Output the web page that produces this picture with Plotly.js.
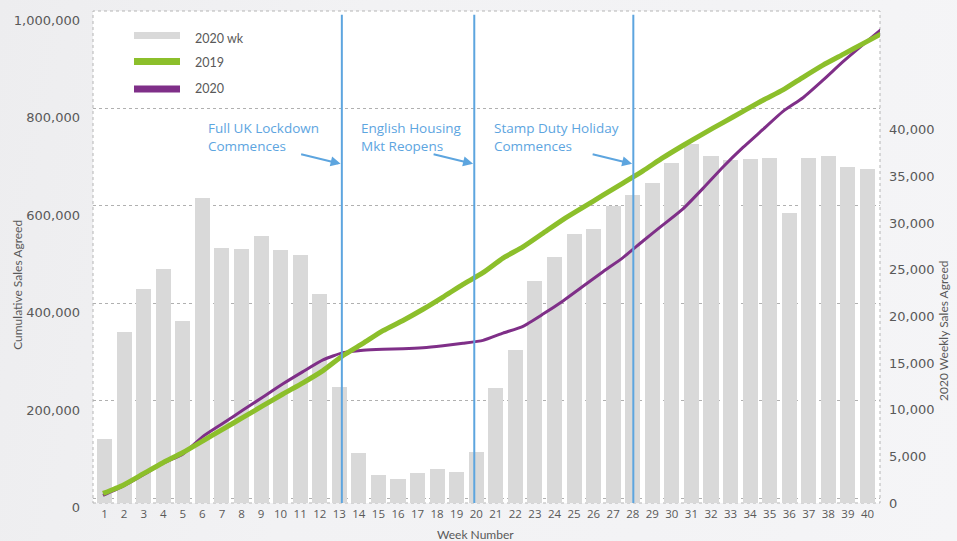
<!DOCTYPE html>
<html>
<head>
<meta charset="utf-8">
<script src="https://cdn.plot.ly/plotly-3.0.1.min.js"></script>
<style>
  html, body { margin: 0; padding: 0; background: #f1f1f3; }
  #chart { width: 957px; height: 541px;
    background: linear-gradient(100deg, #ededef 0%, #f2f2f4 35%, #f3f3f5 70%, #f5f5f7 100%); }
</style>
</head>
<body>
<div id="chart"></div>
<script>
// ---- Data ----
const weeks = [1,2,3,4,5,6,7,8,9,10,11,12,13,14,15,16,17,18,19,20,21,22,23,24,25,26,27,28,29,30,31,32,33,34,35,36,37,38,39,40];
const weekly2020 = [6900,18300,22900,25100,19500,32700,27300,27200,28600,27100,26600,22400,12400,5400,3000,2600,3200,3600,3300,5500,12300,16400,23800,26400,28800,29400,31800,33000,34300,36400,38500,37200,36800,36900,37000,31100,37000,37200,36000,35800];
const cum2019 = [10000,27000,50000,73000,94000,118000,142000,166000,190000,214000,237000,262000,293000,318000,344000,365000,388000,413000,439000,463000,493000,516000,544000,572000,597000,622000,647000,672000,699000,724000,748000,771000,794000,817000,838000,864000,889000,911000,933000,955000];
const cum2020 = [6000,25000,48000,72000,91000,127000,154000,181000,208000,235000,260000,284000,299000,304000,306000,307000,309000,313000,318000,324000,339000,353000,378000,405000,435000,465000,494000,528000,561000,594000,636000,680000,720000,757000,794000,822000,858000,896000,931000,965000];
const seriesNames = ["2020 wk", "2019", "2020"];
const eventWeeks = [13.13, 19.9, 28.03];
const eventLabels = ["Full UK Lockdown<br>Commences", "English Housing<br>Mkt Reopens", "Stamp Duty Holiday<br>Commences"];
const leftTicks = [0,200000,400000,600000,800000,1000000];
const rightTicks = [0,5000,10000,15000,20000,25000,30000,35000,40000];

// ---- Layout helpers (pixel -> paper) ----
const L = 93, R = 880, T = 11.3, B = 503;
const px = x => (x - L) / (R - L);
const py = y => 1 - (y - T) / (B - T);

const GREEN = '#8CBF2B', PURPLE = '#7F2F88', BARC = '#D9D9D9', BLUE = '#5DA5DF', TXT = '#595959';

const traces = [
  // main subplot: weekly bars (week axis + right value axis)
  { type: 'bar', x: weeks, y: weekly2020, name: seriesNames[0], xaxis: 'x', yaxis: 'y',
    marker: { color: BARC, line: { width: 0 } }, width: 0.77 },
  // overlay subplot: cumulative lines (left value axis)
  { type: 'scatter', mode: 'lines', x: weeks, y: cum2020, name: seriesNames[2], xaxis: 'x2', yaxis: 'y2',
    line: { color: PURPLE, width: 3, shape: 'spline', smoothing: 0.5 } },
  { type: 'scatter', mode: 'lines', x: weeks, y: cum2019, name: seriesNames[1], xaxis: 'x2', yaxis: 'y2',
    line: { color: GREEN, width: 5, shape: 'spline', smoothing: 0.5 } }
];

const shapes = [];
const annotations = [];

// plot border (dotted)
shapes.push({ type: 'rect', xref: 'paper', yref: 'paper', x0: 0, x1: 1, y0: 0, y1: 1,
  line: { color: '#b5b5b5', width: 1, dash: 'dot' }, fillcolor: 'rgba(0,0,0,0)', layer: 'below' });

// event lines, arrows and labels
const textX = [206, 359, 492];
eventWeeks.forEach((w, i) => {
  shapes.push({ type: 'line', xref: 'x', yref: 'paper', x0: w, x1: w, y0: 0, y1: py(15),
    line: { color: BLUE, width: 2 } });
  annotations.push({ xref: 'paper', yref: 'paper', x: px(textX[i]), y: py(137),
    xanchor: 'left', yanchor: 'middle', align: 'left', showarrow: false, text: eventLabels[i],
    font: { family: 'Open Sans', size: 13.5, color: BLUE } });
  annotations.push({ xref: 'x', yref: 'paper', x: w - 0.06, y: py(164), ax: -41, ay: -10,
    text: '', showarrow: true, arrowhead: 2, arrowsize: 1, arrowwidth: 2, arrowcolor: BLUE, standoff: 0 });
});

// custom legend
const legColors = [BARC, GREEN, PURPLE];
const legY = [35.7, 61.7, 89.3];
const legTextY = [39, 62.3, 88.3];
seriesNames.forEach((n, i) => {
  shapes.push({ type: 'rect', xref: 'paper', yref: 'paper', x0: px(134), x1: px(180),
    y0: py(legY[i] + 3.5), y1: py(legY[i] - 3.5), line: { width: 0 }, fillcolor: legColors[i] });
  annotations.push({ xref: 'paper', yref: 'paper', x: px(193), y: py(legTextY[i]),
    xanchor: 'left', yanchor: 'middle', showarrow: false, text: n,
    font: { family: 'Lato', size: 12.5, color: TXT } });
});

// axis titles
annotations.push({ xref: 'paper', yref: 'paper', x: px(18), y: py(285), textangle: -90,
  xanchor: 'center', yanchor: 'middle', showarrow: false, text: 'Cumulative Sales Agreed',
  font: { family: 'Lato', size: 12, color: TXT } });
annotations.push({ xref: 'paper', yref: 'paper', x: px(944), y: py(331), textangle: -90,
  xanchor: 'center', yanchor: 'middle', showarrow: false, text: '2020 Weekly Sales Agreed',
  font: { family: 'Lato', size: 12, color: TXT } });
annotations.push({ xref: 'paper', yref: 'paper', x: px(475), y: py(534),
  xanchor: 'center', yanchor: 'middle', showarrow: false, text: 'Week Number',
  font: { family: 'Lato', size: 12, color: TXT } });

const layout = {
  width: 957, height: 541,
  margin: { l: L, r: 957 - R, t: T, b: 541 - B, pad: 0 },
  paper_bgcolor: 'rgba(0,0,0,0)', plot_bgcolor: '#ffffff',
  showlegend: false, bargap: 0,
  xaxis: { range: [0.41, 40.64], tickvals: weeks, ticktext: weeks.map(String), showgrid: false,
    zeroline: false, showline: false, ticks: '', ticklabelstandoff: 2,
    tickfont: { family: 'Open Sans', size: 11.5, color: TXT }, fixedrange: true },
  yaxis: { side: 'right', range: [0, 52730], tickvals: rightTicks, tickformat: ',',
    showgrid: false, zeroline: false, showline: false, ticks: '', ticklabelstandoff: 8,
    tickfont: { family: 'DejaVu Sans', size: 13, color: TXT } },
  xaxis2: { overlaying: 'x', anchor: 'y2', range: [0.5, 39.85], visible: false, showgrid: false,
    zeroline: false, fixedrange: true },
  yaxis2: { overlaying: 'y', side: 'left', anchor: 'x2', range: [-9650, 1000000], tickvals: leftTicks,
    tickformat: ',', showgrid: true, gridcolor: '#b0b0b0', griddash: 'dot', gridwidth: 1,
    zeroline: false, showline: false, ticks: '', ticklabelstandoff: 12, ticklabelposition: 'outside bottom',
    tickfont: { family: 'DejaVu Sans', size: 13, color: TXT } },
  shapes: shapes,
  annotations: annotations
};

Plotly.newPlot('chart', traces, layout, { displayModeBar: false, staticPlot: true });
</script>
</body>
</html>
